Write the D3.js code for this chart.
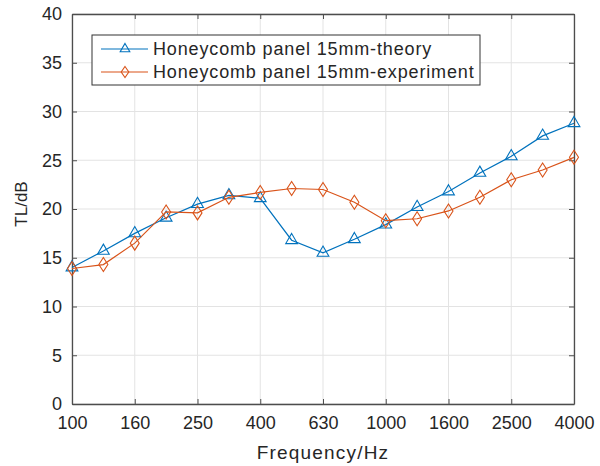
<!DOCTYPE html>
<html>
<head>
<meta charset="utf-8">
<script src="https://cdn.jsdelivr.net/npm/d3@7"></script>
<style>
  body { margin: 0; background: #fff; }
  text { font-family: "Liberation Sans", Arial, sans-serif; fill: #262626; }
</style>
</head>
<body>
<div id="chart"></div>
<script>
const freqs = ["100", "125", "160", "200", "250", "315", "400", "500", "630", "800",
  "1000", "1250", "1600", "2000", "2500", "3150", "4000"];
const tickLabels = ["100", "160", "250", "400", "630", "1000", "1600", "2500", "4000"];
const theory = [14.0, 15.7, 17.5, 19.1, 20.5, 21.4, 21.1, 16.8, 15.5, 16.9,
  18.4, 20.2, 21.8, 23.7, 25.4, 27.5, 28.8];
const experiment = [13.9, 14.3, 16.5, 19.7, 19.6, 21.2, 21.7, 22.1, 22.0, 20.7,
  18.8, 19.0, 19.8, 21.2, 23.0, 24.0, 25.3];
const yTicks = [0, 5, 10, 15, 20, 25, 30, 35, 40];

const width = 600;
const height = 466;
const margin = { top: 14, right: 26, bottom: 62, left: 72 };

const svg = d3.select("#chart")
    .append("svg")
    .attr("width", width)
    .attr("height", height);

const x = d3.scalePoint()
    .domain(freqs)
    .range([margin.left, width - margin.right]);

const y = d3.scaleLinear()
    .domain([0, 40])
    .range([height - margin.bottom, margin.top]);

// grid
svg.selectAll(".xGrid")
    .data(tickLabels)
    .enter()
    .append("line")
    .attr("x1", d => x(d))
    .attr("x2", d => x(d))
    .attr("y1", y(0))
    .attr("y2", y(40))
    .attr("stroke", "#e3e3e3")
    .attr("stroke-width", 1);

svg.selectAll(".yGrid")
    .data(yTicks)
    .enter()
    .append("line")
    .attr("x1", x.range()[0])
    .attr("x2", x.range()[1])
    .attr("y1", d => y(d))
    .attr("y2", d => y(d))
    .attr("stroke", "#e3e3e3")
    .attr("stroke-width", 1);

// axes (ticks pointing inward, box on)
const axisColor = "#4d4d4d";
const styleAxis = g => {
    g.select(".domain").attr("stroke", axisColor).attr("stroke-width", 1.3);
    g.selectAll(".tick line").attr("stroke", axisColor);
    g.selectAll(".tick text")
        .style("font-size", "18px")
        .style("font-family", "Liberation Sans, Arial, sans-serif")
        .attr("fill", "#262626");
};

svg.append("g")
    .attr("transform", `translate(0,${y(0)})`)
    .call(d3.axisBottom(x).tickValues(tickLabels).tickSizeInner(-5).tickSizeOuter(0).tickPadding(12))
    .call(styleAxis);

svg.append("g")
    .attr("transform", `translate(0,${y(40)})`)
    .call(d3.axisTop(x).tickValues(tickLabels).tickSizeInner(-5).tickSizeOuter(0).tickFormat(""))
    .call(styleAxis);

svg.append("g")
    .attr("transform", `translate(${x.range()[0]},0)`)
    .call(d3.axisLeft(y).tickValues(yTicks).tickSizeInner(-5).tickSizeOuter(0).tickPadding(10))
    .call(styleAxis);

svg.append("g")
    .attr("transform", `translate(${x.range()[1]},0)`)
    .call(d3.axisRight(y).tickValues(yTicks).tickSizeInner(-5).tickSizeOuter(0).tickFormat(""))
    .call(styleAxis);

// series
const blue = "#0072BD";
const orange = "#D95319";

const line = d3.line()
    .x((d, i) => x(freqs[i]))
    .y(d => y(d));

const triangle = d3.symbol().type(d3.symbolTriangle);
const diamond = "M0,-7L4.5,0L0,7L-4.5,0Z";
const smallDiamond = "M0,-5.5L3.8,0L0,5.5L-3.8,0Z";

function drawSeries(values, color, marker) {
    svg.append("path")
        .datum(values)
        .attr("fill", "none")
        .attr("stroke", color)
        .attr("stroke-width", 1.2)
        .attr("d", line);

    svg.selectAll(null)
        .data(values)
        .enter()
        .append("path")
        .attr("transform", (d, i) => `translate(${x(freqs[i])},${y(d)})`)
        .attr("d", marker)
        .attr("fill", "none")
        .attr("stroke", color)
        .attr("stroke-width", 1.1);
}

drawSeries(theory, blue, triangle.size(60)());
drawSeries(experiment, orange, diamond);

// legend
const legend = svg.append("g").attr("transform", "translate(92,35)");
legend.append("rect")
    .attr("width", 388)
    .attr("height", 50)
    .attr("fill", "#fff")
    .attr("stroke", "#333")
    .attr("stroke-width", 1);

const legendItems = [
    { name: "Honeycomb panel 15mm-theory", color: blue, marker: triangle.size(40)() },
    { name: "Honeycomb panel 15mm-experiment", color: orange, marker: smallDiamond }
];

legendItems.forEach((d, i) => {
    const ly = 14 + i * 23;
    legend.append("line")
        .attr("x1", 9).attr("x2", 56)
        .attr("y1", ly).attr("y2", ly)
        .attr("stroke", d.color)
        .attr("stroke-width", 1.2);
    legend.append("path")
        .attr("transform", `translate(33,${ly})`)
        .attr("d", d.marker)
        .attr("fill", "none")
        .attr("stroke", d.color)
        .attr("stroke-width", 1.1);
    legend.append("text")
        .attr("x", 61)
        .attr("y", ly)
        .attr("dy", "0.35em")
        .style("font-size", "18px")
        .style("letter-spacing", "0.85px")
        .text(d.name);
});

// axis labels
svg.append("text")
    .attr("x", (x.range()[0] + x.range()[1]) / 2)
    .attr("y", 459)
    .attr("text-anchor", "middle")
    .style("font-size", "19px")
    .style("letter-spacing", "1.2px")
    .text("Frequency/Hz");

svg.append("text")
    .attr("transform", `translate(27,204) rotate(-90)`)
    .attr("text-anchor", "middle")
    .style("font-size", "17px")
    .text("TL/dB");
</script>
</body>
</html>
